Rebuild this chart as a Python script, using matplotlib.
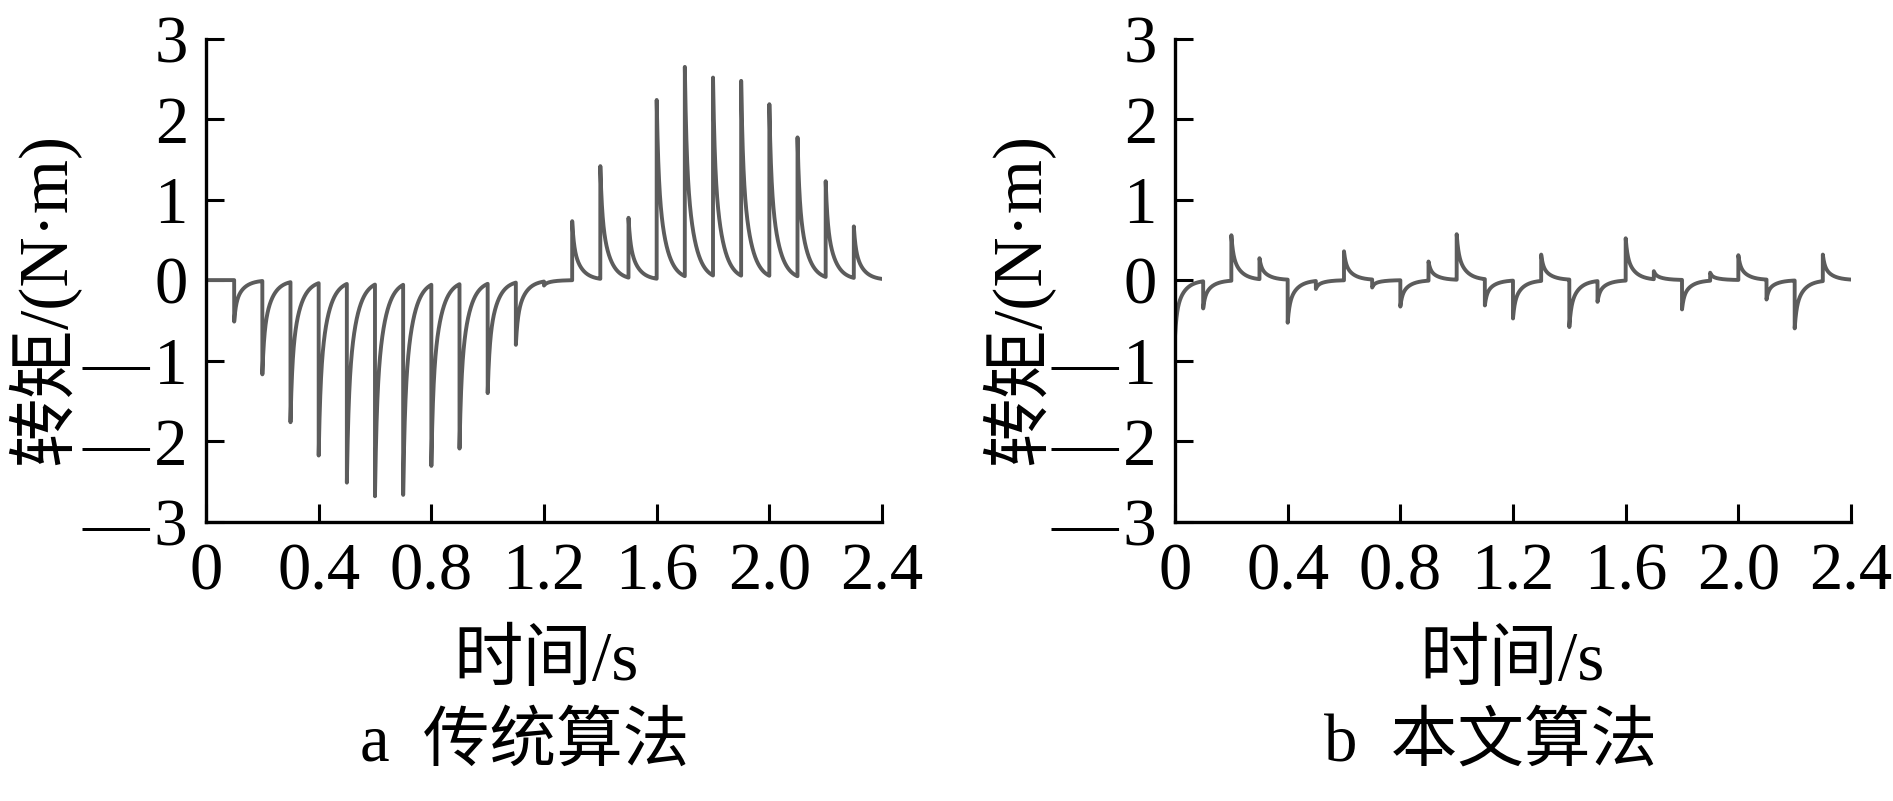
""" Torque ripple comparison: traditional vs proposed algorithm
"""
import numpy as np
import matplotlib
matplotlib.use('Agg')
import matplotlib.pyplot as plt

plt.rcParams['font.family'] = ['Liberation Serif', 'Noto Sans CJK SC']

# switching instants (s) and peak torque (N·m)
spike_times = [0.0, 0.1, 0.2, 0.3, 0.4, 0.5, 0.6, 0.7, 0.8, 0.9, 1.0, 1.1,
               1.2, 1.3, 1.4, 1.5, 1.6, 1.7, 1.8, 1.9, 2.0, 2.1, 2.2, 2.3]
peaks_trad = [0.0, -0.52, -1.17, -1.74, -2.16, -2.49, -2.63, -2.61, -2.27, -2.06, -1.37, -0.78,
              -0.05, 0.74, 1.40, 0.75, 2.24, 2.60, 2.48, 2.42, 2.15, 1.74, 1.20, 0.64]
peaks_new = [-0.70, -0.34, 0.57, 0.26, -0.54, -0.10, 0.36, -0.10, -0.33, 0.24, 0.57, -0.33,
             -0.47, 0.33, -0.59, -0.26, 0.53, 0.10, -0.37, 0.10, 0.31, -0.25, -0.60, 0.33]

x_ticks = [0, 0.4, 0.8, 1.2, 1.6, 2.0, 2.4]
x_ticklabels = ['0', '0.4', '0.8', '1.2', '1.6', '2.0', '2.4']
y_ticks = [3, 2, 1, 0, -1, -2, -3]
y_ticklabels = ['3', '2', '1', '0', '\u2014\u200a1', '\u2014\u200a2', '\u2014\u200a3']

# decay of each torque pulse
TAU_FAST = 0.006
TAU_SLOW = 0.03
W_FAST = 0.4

LINE_COLOR = '#5c5c5c'
FS = 48
FS_LABEL = 50


def waveform(t, times, peaks):
    y = np.zeros_like(t)
    for t0, a in zip(times, peaks):
        dt = t - t0
        m = dt >= 0
        y[m] += a * (W_FAST * np.exp(-dt[m] / TAU_FAST)
                     + (1 - W_FAST) * np.exp(-dt[m] / TAU_SLOW))
    return y


def style_axis(ax):
    ax.set_xlim(0, 2.4)
    ax.set_ylim(-3, 3)
    ax.spines['top'].set_visible(False)
    ax.spines['right'].set_visible(False)
    for s in ['left', 'bottom']:
        ax.spines[s].set_linewidth(2.4)
    ax.set_xticks(x_ticks)
    ax.set_xticklabels(x_ticklabels)
    ax.set_yticks(y_ticks)
    ax.set_yticklabels(y_ticklabels)
    ax.tick_params(direction='in', length=13, width=2.2, labelsize=FS)
    ax.tick_params(axis='x', pad=15)
    ax.tick_params(axis='y', pad=13)


W, H = 1893, 801
fig = plt.figure(figsize=(W / 100, H / 100), dpi=100)

t = np.linspace(0, 2.4, 24001)

panels = [
    (206, peaks_trad, 44, 546, 525, 'a  传统算法'),
    (1175, peaks_new, 1018, 1512, 1491, 'b  本文算法'),
]
for x0, peaks, ylab_x, xlab_x, sub_x, sub in panels:
    ax = fig.add_axes([x0 / W, (H - 521.6) / H, 676 / W, 483 / H])
    ax.plot(t, waveform(t, spike_times, peaks), color=LINE_COLOR, lw=2.8)
    style_axis(ax)
    fig.text(ylab_x / W, 1 - 299 / H, '转矩/(N·m)', rotation=90,
             ha='center', va='center', fontsize=FS_LABEL)
    fig.text(xlab_x / W, 1 - 663 / H, '时间/s', ha='center', va='center', fontsize=FS_LABEL)
    fig.text(sub_x / W, 1 - 744 / H, sub, ha='center', va='center', fontsize=FS)

fig.savefig('out.png', dpi=100)
plt.close(fig)
